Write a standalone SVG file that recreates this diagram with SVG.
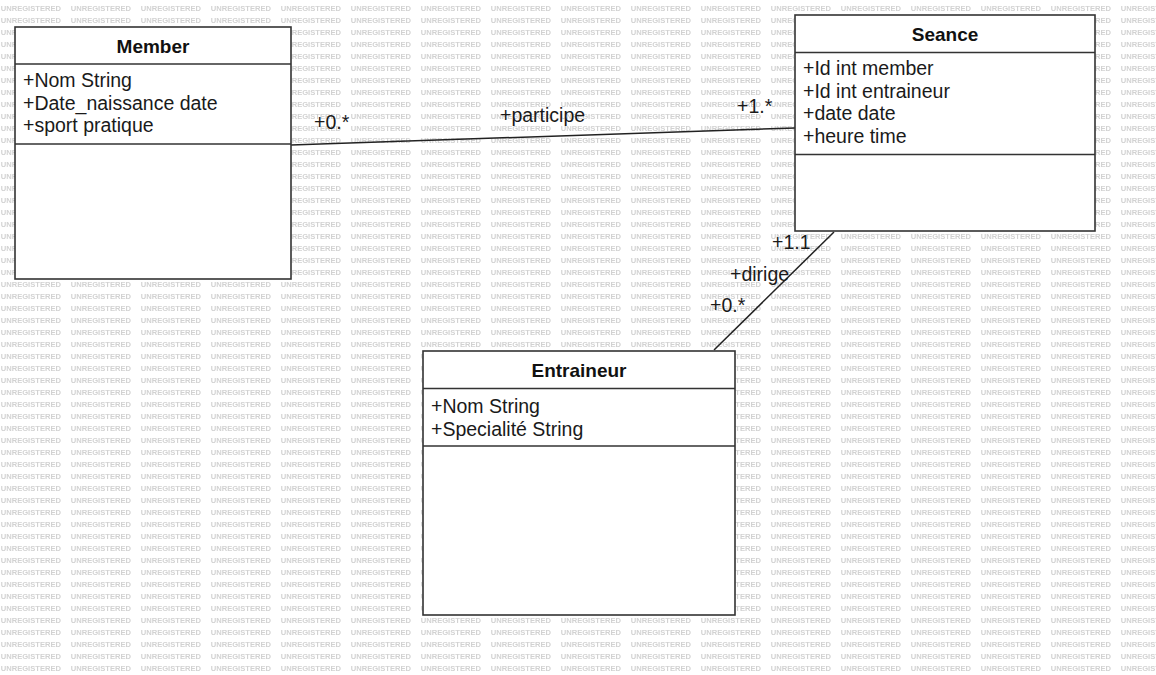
<svg xmlns="http://www.w3.org/2000/svg" width="1156" height="675" viewBox="0 0 1156 675">
<style>
.box{fill:#fff;stroke:#333;stroke-width:1.6}
.div{stroke:#333;stroke-width:1.6}
.title{font-family:"Liberation Sans",Arial,sans-serif;font-size:19px;font-weight:bold;fill:#111;text-anchor:middle}
.attr{font-family:"Liberation Sans",Arial,sans-serif;font-size:19.5px;fill:#1a1a1a}
.lbl{font-family:"Liberation Sans",Arial,sans-serif;font-size:19.5px;fill:#1a1a1a}
.wm{font-family:"Liberation Sans",Arial,sans-serif;font-size:7.6px;font-weight:bold;fill:#d2d2d2}
.conn{stroke:#222;stroke-width:1.5;fill:none}
</style>
<defs>
<pattern id="wm" x="0" y="0" width="70" height="12" patternUnits="userSpaceOnUse">
<text class="wm" x="0.7" y="11">UNREGISTERED</text>
</pattern>
</defs>
<rect width="1156" height="675" fill="#fff"/>
<rect width="1156" height="675" fill="url(#wm)"/>
<g id="connectors">
<line class="conn" x1="291" y1="145" x2="795" y2="128"/>
<text class="lbl" x="314" y="129">+0.*</text>
<text class="lbl" x="500" y="122">+participe</text>
<text class="lbl" x="737" y="113">+1.*</text>
<line class="conn" x1="834" y1="232" x2="714" y2="350"/>
<text class="lbl" x="772" y="249">+1.1</text>
<text class="lbl" x="730" y="281">+dirige</text>
<text class="lbl" x="710" y="312">+0.*</text>
</g>
<g id="member">
<rect class="box" x="15" y="27" width="276" height="252"/>
<line class="div" x1="15" y1="64" x2="291" y2="64"/>
<line class="div" x1="15" y1="144" x2="291" y2="144"/>
<text class="title" x="153" y="53">Member</text>
<text class="attr" x="23" y="87">+Nom String</text>
<text class="attr" x="23" y="109.5">+Date_naissance date</text>
<text class="attr" x="23" y="132">+sport pratique</text>
</g>
<g id="seance">
<rect class="box" x="795" y="15" width="300" height="216"/>
<line class="div" x1="795" y1="52.5" x2="1095" y2="52.5"/>
<line class="div" x1="795" y1="154.5" x2="1095" y2="154.5"/>
<text class="title" x="945" y="41">Seance</text>
<text class="attr" x="803" y="75">+Id int member</text>
<text class="attr" x="803" y="97.5">+Id int entraineur</text>
<text class="attr" x="803" y="120">+date date</text>
<text class="attr" x="803" y="142.5">+heure time</text>
</g>
<g id="entraineur">
<rect class="box" x="423" y="351" width="312" height="264"/>
<line class="div" x1="423" y1="388.5" x2="735" y2="388.5"/>
<line class="div" x1="423" y1="446" x2="735" y2="446"/>
<text class="title" x="579" y="377">Entraineur</text>
<text class="attr" x="431" y="413">+Nom String</text>
<text class="attr" x="431" y="435.5">+Specialité String</text>
</g>
</svg>
